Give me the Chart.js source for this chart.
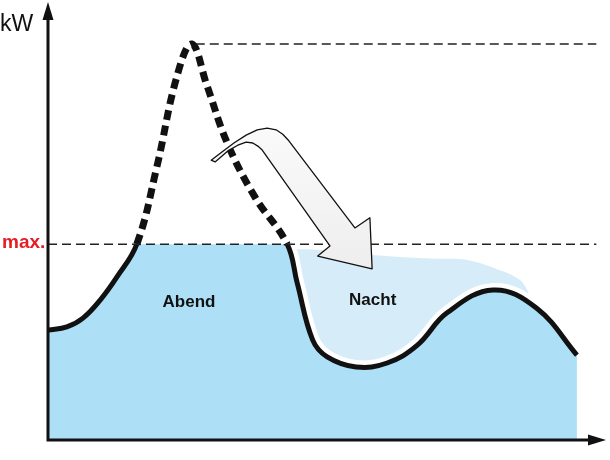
<!DOCTYPE html>
<html>
<head>
<meta charset="utf-8">
<script src="https://cdn.jsdelivr.net/npm/chart.js@4.4.1/dist/chart.umd.min.js"></script>
<style>
  html, body { margin: 0; padding: 0; background: #fff; }
  #wrap { width: 610px; height: 460px; }
</style>
</head>
<body>
<div id="wrap"><canvas id="loadChart" width="610" height="460"></canvas></div>
<script>
// load curve (x = time, y = kW, arbitrary units)
const hours = [0, 3.4, 6.3, 9.4, 12.4, 16.0, 19.6, 23.2, 25.9, 28.6, 32.3, 37.3, 43.1, 44.9, 47.7, 50.3, 55.5,
  61.1, 66.5, 71.9, 80.2, 88.0, 95.3];
const load = [25.0, 25.7, 27.7, 31.8, 37.0, 44.5, 62.0, 82.5, 90.0, 80.7, 67.5, 55.2, 44.5, 35.7, 22.7, 18.9, 16.6,
  17.5, 21.5, 28.9, 34.1, 30.0, 19.3];

const MAX = 44.5;      // grid limit
const GUIDE_END = 98.8;

// shifted night load (upper edge of the light area)
const nachtX = [43.6, 49.0, 54.4, 63.4, 70.0, 75.5, 81.4, 85.0, 86.6];
const nachtY = [43.4, 43.2, 42.5, 41.6, 41.2, 40.9, 38.6, 36.4, 33.6];

// shift arrow outline
const arrowX = [29.4, 31.4, 33.5, 35.7, 37.7, 39.5, 41.1, 42.3, 43.4, 55.3, 58.0, 58.4, 48.6, 50.8,
  38.6, 37.8, 36.9, 35.7, 34.2, 32.4, 30.1];
const arrowY = [63.6, 65.5, 67.5, 69.3, 70.5, 70.9, 70.5, 69.5, 68.0, 48.2, 50.5, 38.9, 41.8, 44.1,
  65.9, 66.8, 67.5, 67.7, 67.0, 65.7, 63.2];

const labels = [
  { text: 'Abend', x: 25.4, y: 30.2 },
  { text: 'Nacht', x: 58.5, y: 30.7 }
];

const above = c => c.p0.parsed.y >= MAX - 0.01 && c.p1.parsed.y >= MAX - 0.01;

function traceCurve(ctx, pts) {
  ctx.moveTo(pts[0].x, pts[0].y);
  for (let i = 1; i < pts.length; i++) {
    const p = pts[i - 1], q = pts[i];
    ctx.bezierCurveTo(p.cp2x, p.cp2y, q.cp1x, q.cp1y, q.x, q.y);
  }
}

// white halo + blue area under the curve, capped at max
const underFill = {
  id: 'underFill',
  beforeDatasetDraw(chart, args) {
    if (args.index !== 0) return;
    const {ctx, chartArea: area, scales: {y}} = chart;
    const meta = chart.getDatasetMeta(0);
    meta.dataset.updateControlPoints(area, 'x');
    const pts = meta.data;
    const yMax = y.getPixelForValue(MAX);
    const y0 = y.getPixelForValue(0);

    ctx.save();
    ctx.beginPath();
    traceCurve(ctx, pts);
    ctx.strokeStyle = '#ffffff';
    ctx.lineWidth = 14;
    ctx.lineJoin = 'round';
    ctx.stroke();

    ctx.beginPath();
    ctx.rect(area.left, yMax, area.width, y0 - yMax);
    ctx.clip();
    ctx.beginPath();
    traceCurve(ctx, pts);
    ctx.lineTo(pts[pts.length - 1].x, y0);
    ctx.lineTo(pts[0].x, y0);
    ctx.closePath();
    ctx.fillStyle = '#ade0f7';
    ctx.fill();
    ctx.restore();
  }
};

const decor = {
  id: 'decor',
  afterDatasetsDraw(chart) {
    const {ctx, chartArea: area, scales: {x, y}} = chart;
    const yMax = y.getPixelForValue(MAX);
    const peak = Math.max(...load);
    const peakX = hours[load.indexOf(peak)];
    const xEnd = x.getPixelForValue(GUIDE_END);

    ctx.save();
    // dashed guide lines
    ctx.setLineDash([9, 5]);
    ctx.lineWidth = 1.5;
    ctx.strokeStyle = '#222';
    ctx.beginPath();
    ctx.moveTo(area.left, yMax);
    ctx.lineTo(xEnd, yMax);
    ctx.moveTo(x.getPixelForValue(peakX) + 4, y.getPixelForValue(peak));
    ctx.lineTo(xEnd, y.getPixelForValue(peak));
    ctx.stroke();
    ctx.setLineDash([]);

    // axes with arrow heads
    const ox = x.getPixelForValue(0), oy = y.getPixelForValue(0);
    ctx.strokeStyle = '#111';
    ctx.fillStyle = '#111';
    ctx.lineWidth = 3;
    ctx.beginPath();
    ctx.moveTo(ox, oy);
    ctx.lineTo(ox, area.top + 16);
    ctx.moveTo(ox - 1.5, oy);
    ctx.lineTo(area.right - 12, oy);
    ctx.stroke();
    ctx.beginPath();
    ctx.moveTo(ox, area.top + 2);
    ctx.lineTo(ox - 5.5, area.top + 20);
    ctx.lineTo(ox + 5.5, area.top + 20);
    ctx.closePath();
    ctx.fill();
    ctx.beginPath();
    ctx.moveTo(area.right + 3, oy);
    ctx.lineTo(area.right - 15, oy - 5.5);
    ctx.lineTo(area.right - 15, oy + 5.5);
    ctx.closePath();
    ctx.fill();

    // shift arrow
    ctx.beginPath();
    arrowX.forEach((v, i) => {
      const px = x.getPixelForValue(v), py = y.getPixelForValue(arrowY[i]);
      if (i === 0) ctx.moveTo(px, py); else ctx.lineTo(px, py);
    });
    ctx.closePath();
    const g = ctx.createLinearGradient(0, y.getPixelForValue(71), 0, y.getPixelForValue(39));
    g.addColorStop(0, '#fafafa');
    g.addColorStop(1, '#eeeeee');
    ctx.fillStyle = g;
    ctx.fill();
    ctx.lineWidth = 1.3;
    ctx.lineJoin = 'round';
    ctx.strokeStyle = '#111';
    ctx.stroke();

    // texts
    ctx.fillStyle = '#111';
    ctx.font = 'bold 17px "Liberation Sans", Arial, sans-serif';
    ctx.textAlign = 'center';
    ctx.textBaseline = 'alphabetic';
    labels.forEach(l => ctx.fillText(l.text, x.getPixelForValue(l.x), y.getPixelForValue(l.y)));

    ctx.textAlign = 'left';
    ctx.font = '23px "Liberation Sans", Arial, sans-serif';
    ctx.fillText('kW', 0, 31);
    ctx.fillStyle = '#e31e24';
    ctx.font = 'bold 19px "Liberation Sans", Arial, sans-serif';
    ctx.fillText('max.', 2, yMax + 4);
    ctx.restore();
  }
};

new Chart(document.getElementById('loadChart'), {
  type: 'line',
  data: {
    datasets: [
      {
        label: 'Last',
        data: hours.map((h, i) => ({x: h, y: load[i]})),
        borderColor: '#111',
        borderWidth: 5,
        borderCapStyle: 'butt',
        tension: 0.4,
        pointRadius: 0,
        fill: false,
        segment: {
          borderDash: c => above(c) ? [10, 6] : undefined,
          borderWidth: c => above(c) ? 7 : undefined
        }
      },
      {
        label: 'Nacht',
        data: nachtX.map((h, i) => ({x: h, y: nachtY[i]})),
        borderColor: 'transparent',
        borderWidth: 0,
        backgroundColor: '#d6edf9',
        tension: 0.4,
        pointRadius: 0,
        fill: '-1'
      }
    ]
  },
  options: {
    responsive: false,
    animation: false,
    layout: { padding: { left: 48, right: 7, top: 0, bottom: 20 } },
    scales: {
      x: { type: 'linear', min: 0, max: 100, display: false },
      y: { min: 0, max: 100, display: false }
    },
    plugins: { legend: { display: false }, tooltip: { enabled: false } }
  },
  plugins: [underFill, decor]
});
</script>
</body>
</html>
